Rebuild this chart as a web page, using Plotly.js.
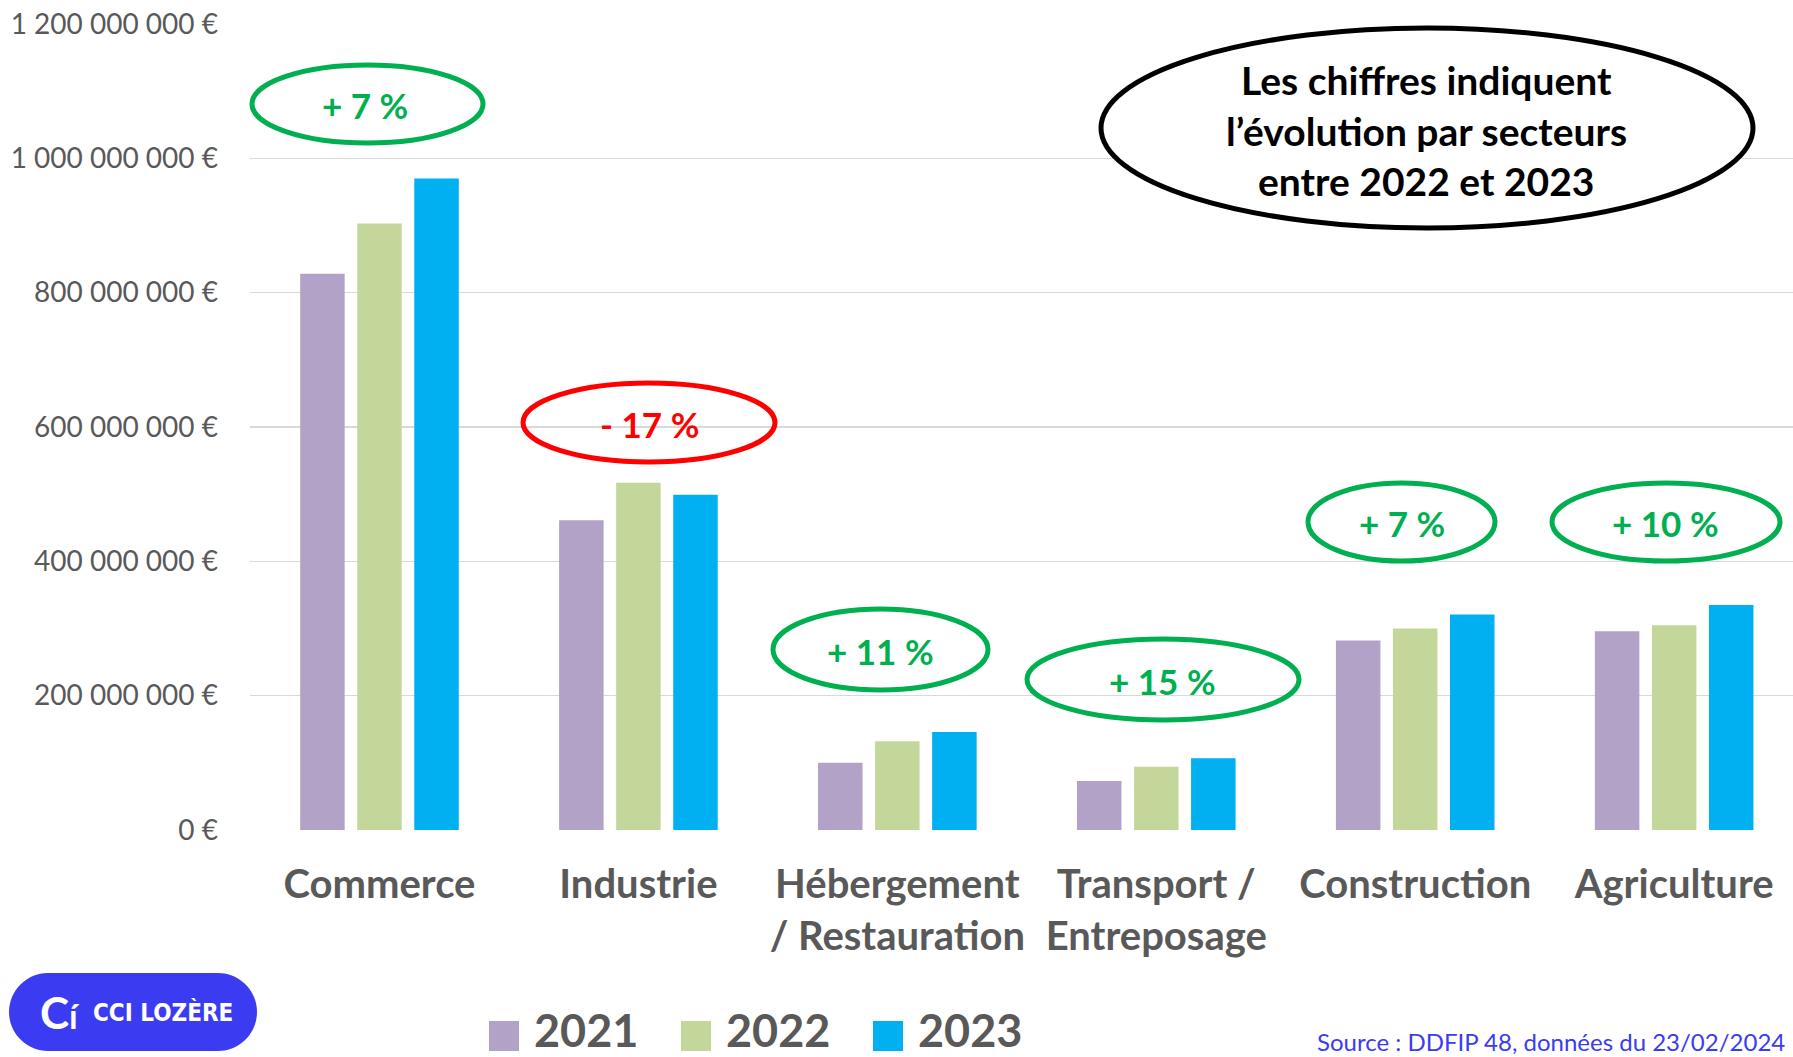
<!DOCTYPE html>
<html>
<head>
<meta charset="utf-8">
<script src="https://cdn.plot.ly/plotly-3.0.1.min.js"></script>
<style>html,body{margin:0;padding:0;background:#fff;}#chart{width:1793px;height:1057px;}</style>
</head>
<body>
<div id="chart"></div>
<script>
// ---- data ----
const categories = ["Commerce", "Industrie", "Hébergement<br>/ Restauration", "Transport /<br>Entreposage", "Construction", "Agriculture"];
const years = ["2021", "2022", "2023"];
const values2021 = [828e6, 461e6, 100e6, 73e6, 282e6, 296e6];
const values2022 = [903e6, 517e6, 132e6, 94e6, 300e6, 305e6];
const values2023 = [970e6, 499e6, 146e6, 107e6, 321e6, 335e6];
const colors = ["#B3A2C7", "#C4D79B", "#00B0F0"];
const yTickVals = [0, 200e6, 400e6, 600e6, 800e6, 1000e6, 1200e6];
const yTickText = ["0 €", "200 000 000 €", "400 000 000 €", "600 000 000 €", "800 000 000 €", "1 000 000 000 €", "1 200 000 000 €"];
const evolutionLabels = ["+ 7 %", "- 17 %", "+ 11 %", "+ 15 %", "+ 7 %", "+ 10 %"];
const evolutionColors = ["#00B050", "#FF0000", "#00B050", "#00B050", "#00B050", "#00B050"];
const noteLines = ["Les chiffres indiquent", "l’évolution par secteurs", "entre 2022 et 2023"];
const sourceText = "Source : DDFIP 48, données du 23/02/2024";
const logoText = "CCI LOZÈRE";

// ---- layout helpers (pixel -> paper) ----
const L = 250, T = 24, W = 1543, H = 806;
const px = x => (x - L) / W;
const py = y => (T + H - y) / H;

const series = [values2021, values2022, values2023];
const traces = series.map((vals, i) => ({
  type: "bar",
  name: years[i],
  x: categories,
  y: vals,
  marker: {color: colors[i]},
  showlegend: false,
  hoverinfo: "x+y"
}));

// ellipse boxes (pixel placement)
const ellipseBoxes = [
  [252, 65, 483, 143, 365, 105],
  [523, 383, 775, 462, 649, 424],
  [773, 609, 988, 690, 880, 651],
  [1027, 639, 1299, 720, 1162, 681],
  [1308, 483, 1495, 561, 1402, 523],
  [1552, 483, 1780, 561, 1665, 523]
];

const shapes = [];
const annotations = [];
ellipseBoxes.forEach((b, i) => {
  shapes.push({type: "circle", xref: "paper", yref: "paper",
    x0: px(b[0]), x1: px(b[2]), y0: py(b[3]), y1: py(b[1]),
    line: {color: evolutionColors[i], width: 5}, fillcolor: "rgba(0,0,0,0)"});
  annotations.push({xref: "paper", yref: "paper", x: px(b[4]), y: py(b[5]),
    xanchor: "center", yanchor: "middle", showarrow: false,
    text: "<b>" + evolutionLabels[i] + "</b>",
    font: {family: "Lato", size: 35, color: evolutionColors[i]}});
});

// note ellipse
shapes.push({type: "circle", xref: "paper", yref: "paper",
  x0: px(1101), x1: px(1753), y0: py(228), y1: py(28),
  line: {color: "#000000", width: 5}, fillcolor: "#ffffff"});
const noteY = [80, 131, 181];
noteLines.forEach((t, i) => {
  annotations.push({xref: "paper", yref: "paper", x: px(1426), y: py(noteY[i]),
    xanchor: "center", yanchor: "middle", showarrow: false,
    text: "<b>" + t + "</b>",
    font: {family: "Lato", size: 39, color: "#000000"}});
});

// custom legend
const legSq = [489, 681, 873];
years.forEach((yr, i) => {
  shapes.push({type: "rect", xref: "paper", yref: "paper",
    x0: px(legSq[i]), x1: px(legSq[i] + 30), y0: py(1051), y1: py(1021),
    line: {width: 0}, fillcolor: colors[i]});
  annotations.push({xref: "paper", yref: "paper", x: px(legSq[i] + 43), y: py(1030),
    xanchor: "left", yanchor: "middle", showarrow: false,
    text: "<b>" + yr + "</b>",
    font: {family: "Lato", size: 45, color: "#595959"}});
});

// logo
shapes.push({type: "path", xref: "paper", yref: "paper",
  path: (function () {
    const x0 = 9, x1 = 257, y0 = 973, y1 = 1051, r = 39;
    const P = (x, y) => px(x) + "," + py(y);
    return "M" + P(x0 + r, y0) + " L" + P(x1 - r, y0) +
      " C" + P(x1 - r + r * 0.55, y0) + " " + P(x1, y0 + r - r * 0.55) + " " + P(x1, y0 + r) +
      " C" + P(x1, y1 - r + r * 0.55) + " " + P(x1 - r + r * 0.55, y1) + " " + P(x1 - r, y1) +
      " L" + P(x0 + r, y1) +
      " C" + P(x0 + r - r * 0.55, y1) + " " + P(x0, y1 - r + r * 0.55) + " " + P(x0, y1 - r) +
      " C" + P(x0, y0 + r - r * 0.55) + " " + P(x0 + r - r * 0.55, y0) + " " + P(x0 + r, y0) + " Z";
  })(),
  line: {width: 0}, fillcolor: "#3B3BF2"});
annotations.push({xref: "paper", yref: "paper", x: px(60), y: py(1012),
  xanchor: "center", yanchor: "middle", showarrow: false,
  text: "<b>C<span style='font-size:34px'>í</span></b>", font: {family: "Lato", size: 44, color: "#ffffff"}});
annotations.push({xref: "paper", yref: "paper", x: px(91), y: py(1012),
  xanchor: "left", yanchor: "middle", showarrow: false,
  text: "<b>" + logoText + "</b>", font: {family: "DejaVu Sans Condensed", size: 24, color: "#ffffff"}});

// source
annotations.push({xref: "paper", yref: "paper", x: px(1315), y: py(1041),
  xanchor: "left", yanchor: "middle", showarrow: false,
  text: sourceText, font: {family: "Lato", size: 24, color: "#3B3BF2"}});

const layout = {
  width: 1793, height: 1057,
  margin: {l: L, r: 1793 - L - W, t: T, b: 1057 - T - H, pad: 0},
  paper_bgcolor: "#ffffff", plot_bgcolor: "#ffffff",
  barmode: "group", bargap: 0.339, bargroupgap: 0.22,
  showlegend: false,
  xaxis: {type: "category", range: [-0.5, 5.459], showgrid: false, zeroline: false, showline: false,
    ticks: "", tickfont: {family: "Lato", size: 40, color: "#595959", weight: "bold"},
    ticklabelstandoff: 27, automargin: false},
  yaxis: {range: [0, 1.2e9], tickvals: yTickVals, ticktext: yTickText,
    showgrid: true, gridcolor: "#D9D9D9", gridwidth: 1.5, zeroline: false, showline: false,
    ticks: "", tickfont: {family: "Lato", size: 28, color: "#595959"},
    ticklabelstandoff: 31, automargin: false},
  shapes: shapes,
  annotations: annotations,
  font: {family: "Lato"}
};

Plotly.newPlot("chart", traces, layout, {displayModeBar: false, staticPlot: true});
</script>
</body>
</html>
